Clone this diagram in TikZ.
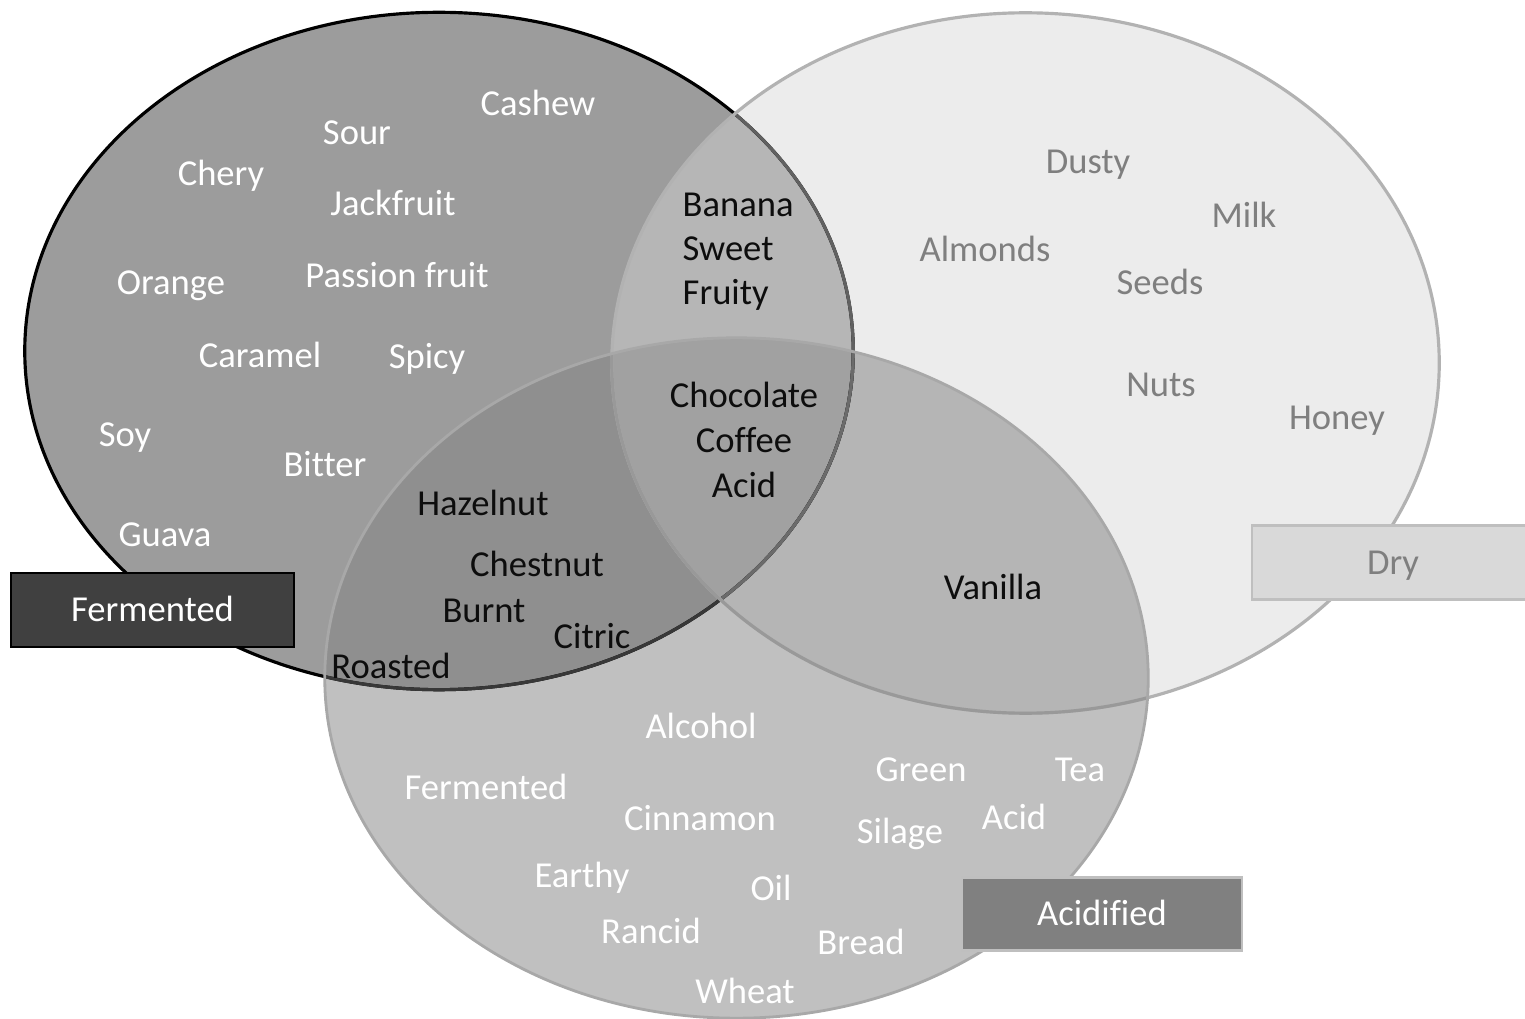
\documentclass[tikz,border=0pt]{standalone}
\usepackage{fontspec}
\setmainfont{Carlito}[Ligatures=NoCommon]
\definecolor{cFo}{HTML}{9C9C9C}
\definecolor{cFD}{HTML}{B6B6B6}
\definecolor{cDo}{HTML}{ECECEC}
\definecolor{cAo}{HTML}{C0C0C0}
\definecolor{cAD}{HTML}{B5B5B5}
\definecolor{cFA}{HTML}{8F8F8F}
\definecolor{cFDA}{HTML}{A1A1A1}
\definecolor{cDryTxt}{HTML}{7F7F7F}
\definecolor{cBlk}{HTML}{0D0D0D}
\newcommand{\lblfont}{\fontsize{10.4pt}{12pt}\selectfont}
\tikzset{
  wtxt/.style={text=white, font=\lblfont, inner sep=0pt, anchor=base},
  btxt/.style={text=cBlk, font=\lblfont, inner sep=0pt, anchor=base},
  gtxt/.style={text=cDryTxt, font=\lblfont, inner sep=0pt, anchor=base},
  labelbox/.style={font=\lblfont, inner sep=0pt, text height=0.235cm, text depth=0cm, line width=0.7pt},
}
\begin{document}
\begin{tikzpicture}[x=0.01cm,y=-0.01cm]
\useasboundingbox (0,0) rectangle (1525,1019);
\clip (0,0) rectangle (1525,1019);
\def\FE{(439,351) ellipse [x radius=4.14cm, y radius=3.385cm]}
\def\DR{(1025.5,363) ellipse [x radius=4.135cm, y radius=3.50cm]}
\def\AC{(736.5,678) ellipse [x radius=4.115cm, y radius=3.40cm]}
% region fills
\fill[cFo] \FE;
\fill[cDo] \DR;
\begin{scope}\clip \FE; \fill[cFD] \DR;\end{scope}
\fill[cAo] \AC;
\begin{scope}\clip \AC; \fill[cAD] \DR;\end{scope}
\begin{scope}\clip \AC; \fill[cFA] \FE;\end{scope}
\begin{scope}\clip \AC; \clip \DR; \fill[cFDA] \FE;\end{scope}
% borders
\draw[black, line width=0.9pt] \FE;
\begin{scope}\clip \DR; \draw[black!62, line width=0.9pt] \FE;\end{scope}
\begin{scope}\clip \AC; \draw[black!78, line width=0.9pt] \FE;\end{scope}
\begin{scope}\clip \AC; \clip \DR; \draw[black!58, line width=0.9pt] \FE;\end{scope}
\draw[black!30, line width=0.9pt] \DR;
\begin{scope}\clip \AC; \draw[black!40, line width=0.9pt] \DR;\end{scope}
\draw[black!34, line width=0.8pt] \AC;
% Fermented only
\node[wtxt] (cashew) at (538,116) {Cashew};
\node[wtxt] (sour) at (357,145) {Sour};
\node[wtxt] (chery) at (221,186) {Chery};
\node[wtxt] (jackfruit) at (393,216) {Jackfruit};
\node[wtxt] (orange) at (171,295) {Orange};
\node[wtxt] (passion) at (397,288) {Passion fruit};
\node[wtxt] (caramel) at (260,368) {Caramel};
\node[wtxt] (spicy) at (427,369) {Spicy};
\node[wtxt] (soy) at (125,447) {Soy};
\node[wtxt] (bitter) at (325,477) {Bitter};
\node[wtxt] (guava) at (165,546) {Guava};
% Fermented & Dry
\node[btxt, anchor=base west] (banana) at (682,217) {Banana};
\node[btxt, anchor=base west] (sweet) at (682,261) {Sweet};
\node[btxt, anchor=base west] (fruity) at (682,305) {Fruity};
% all three
\node[btxt] (choc) at (744,408) {Chocolate};
\node[btxt] (coffee) at (744,453) {Coffee};
\node[btxt] (acidc) at (744,498) {Acid};
% Fermented & Acidified
\node[btxt] (hazelnut) at (483,515) {Hazelnut};
\node[btxt] (chestnut) at (537,576) {Chestnut};
\node[btxt] (burnt) at (484,622) {Burnt};
\node[btxt] (citric) at (592,648) {Citric};
\node[btxt] (roasted) at (391,678) {Roasted};
% Dry only
\node[gtxt] (dusty) at (1088,174) {Dusty};
\node[gtxt] (milk) at (1244,228) {Milk};
\node[gtxt] (almonds) at (985,262) {Almonds};
\node[gtxt] (seeds) at (1160,295) {Seeds};
\node[gtxt] (nuts) at (1161,397) {Nuts};
\node[gtxt] (honey) at (1337,430) {Honey};
% Acidified & Dry
\node[btxt] (vanilla) at (993,600) {Vanilla};
% Acidified only
\node[wtxt] (alcohol) at (701,738) {Alcohol};
\node[wtxt] (fermw) at (486,799) {Fermented};
\node[wtxt] (green) at (921,781) {Green};
\node[wtxt] (tea) at (1080,781) {Tea};
\node[wtxt] (cinnamon) at (700,830) {Cinnamon};
\node[wtxt] (silage) at (900,843) {Silage};
\node[wtxt] (acida) at (1014,829) {Acid};
\node[wtxt] (earthy) at (582,887) {Earthy};
\node[wtxt] (oil) at (771,900) {Oil};
\node[wtxt] (rancid) at (651,943) {Rancid};
\node[wtxt] (bread) at (861,954) {Bread};
\node[wtxt] (wheat) at (745,1003) {Wheat};
% label boxes
\node[labelbox, draw=black, fill=black!75, text=white, minimum width=2.83cm, minimum height=0.74cm] (lblferm) at (152.5,610) {Fermented};
\node[labelbox, draw=black!25, fill=black!15, text=cDryTxt, minimum width=2.82cm, minimum height=0.74cm] (lbldry) at (1393,562.5) {Dry};
\node[labelbox, draw=black!25, fill=black!50, text=white, minimum width=2.80cm, minimum height=0.73cm] (lblacid) at (1102,914) {Acidified};
\end{tikzpicture}
\end{document}
